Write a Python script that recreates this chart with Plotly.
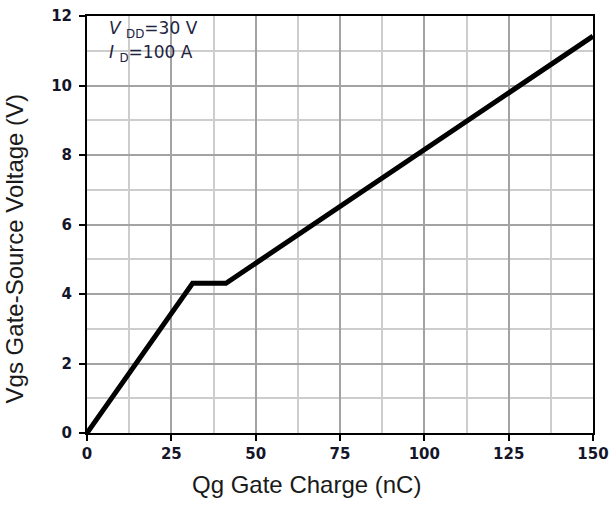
import plotly.graph_objects as go

# Gate charge curve: Vgs vs Qg (VDD = 30 V, ID = 100 A)
qg_nc = [0, 31.3, 41.2, 150]
vgs_v = [0, 4.31, 4.31, 11.42]

x_ticks = [0, 25, 50, 75, 100, 125, 150]
y_ticks = [0, 2, 4, 6, 8, 10, 12]

x_title = "Qg Gate Charge (nC)"
y_title = "Vgs Gate-Source Voltage (V)"
conditions = ["<i>V</i> <sub>DD</sub>=30 V", "<i>I</i> <sub>D</sub>=100 A"]

tick_font = dict(family="DejaVu Sans, sans-serif", size=15, color="#15152a", weight="bold")
title_font = dict(family="Liberation Sans, Arial, sans-serif", size=24, color="#1a1a1a")
note_font = dict(family="DejaVu Sans, sans-serif", size=17, color="#1f2440")

fig = go.Figure()
fig.add_trace(go.Scatter(
    x=qg_nc, y=vgs_v, mode="lines",
    line=dict(color="black", width=5),
    showlegend=False,
))

axis_common = dict(
    showline=True, linecolor="black", linewidth=2, mirror=True,
    ticks="outside", ticklen=6, tickwidth=1.5, tickcolor="black",
    tickfont=tick_font,
    showgrid=True, gridcolor="#a3a3a3", gridwidth=2,
    zeroline=False, fixedrange=True, automargin=False,
)

fig.update_xaxes(
    range=[0, 150], tickvals=x_ticks, ticktext=[str(v) for v in x_ticks],
    minor=dict(dtick=12.5, tick0=0, showgrid=True, gridcolor="#cdcdcd", gridwidth=2, ticks=""),
    **axis_common,
)
fig.update_yaxes(
    range=[0, 12], tickvals=y_ticks, ticktext=[str(v) for v in y_ticks],
    minor=dict(dtick=1, tick0=0, showgrid=True, gridcolor="#cdcdcd", gridwidth=2, ticks=""),
    ticklabelstandoff=4,
    **axis_common,
)

# axis titles (placed slightly off-centre, as in the datasheet figure)
fig.add_annotation(
    xref="paper", yref="paper", x=0.434, y=-0.124,
    xanchor="center", yanchor="middle", showarrow=False,
    text=x_title, font=title_font,
)
fig.add_annotation(
    xref="paper", yref="paper", x=-0.144, y=0.443,
    xanchor="center", yanchor="middle", showarrow=False, textangle=-90,
    text=y_title, font=title_font,
)

# white panel behind the test-condition note
fig.add_shape(
    type="rect", xref="paper", yref="paper",
    x0=0.026, x1=0.247, y0=0.875, y1=1.0,
    fillcolor="white", line=dict(width=0), layer="between",
)
for text, ypos in zip(conditions, [0.968, 0.911]):
    fig.add_annotation(
        xref="paper", yref="paper", x=0.04, y=ypos,
        xanchor="left", yanchor="middle", showarrow=False,
        text=text, font=note_font,
    )

fig.update_layout(
    width=610, height=505,
    margin=dict(l=87, r=17, t=16, b=72),
    paper_bgcolor="white", plot_bgcolor="white",
)

fig.write_html("out.html")
